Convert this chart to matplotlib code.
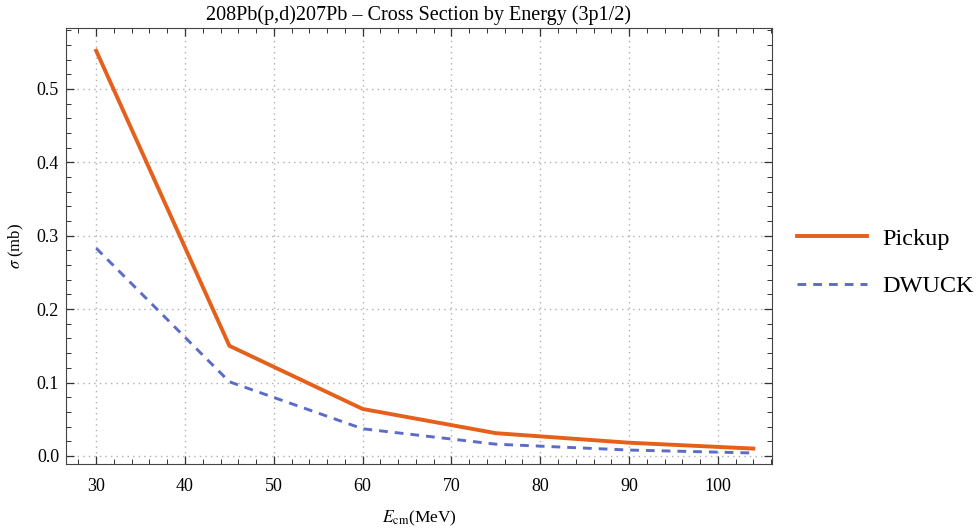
import matplotlib
matplotlib.use("Agg")
import matplotlib.pyplot as plt
from matplotlib.ticker import MultipleLocator

plt.rcParams['font.family'] = ['Liberation Serif', 'DejaVu Serif']
plt.rcParams['mathtext.fontset'] = 'stix'

energy = [30, 45, 60, 75, 90, 104]
pickup = [0.552, 0.150, 0.064, 0.031, 0.018, 0.010]
dwuck = [0.283, 0.101, 0.037, 0.016, 0.008, 0.004]

fig = plt.figure(figsize=(9.79, 5.30), dpi=100)
ax = fig.add_axes([66/979, 1-464/530, (772-66)/979, (464-28)/530])

ax.plot(energy, pickup, color='#E5601A', lw=2.8, label='Pickup')
ax.plot(energy, dwuck, color='#5B6CC8', lw=2.1, ls=(0, (3, 2.4)), label='DWUCK')

ax.set_xlim(26.6, 106.1)
ax.set_ylim(-0.011, 0.583)
ax.xaxis.set_major_locator(MultipleLocator(10))
ax.xaxis.set_minor_locator(MultipleLocator(2))
ax.yaxis.set_major_locator(MultipleLocator(0.1))
ax.yaxis.set_minor_locator(MultipleLocator(0.02))
ax.yaxis.set_major_formatter(plt.FuncFormatter(lambda v, p: f"{v:.1f}"))
ax.tick_params(which='both', direction='in', top=True, right=True, labelsize=13, color='#333333')
ax.tick_params(axis='x', which='major', pad=10)
ax.tick_params(axis='y', which='major', pad=5)
ax.tick_params(which='major', length=6, width=0.9)
ax.tick_params(which='minor', length=3.5, width=0.7)
for s in ax.spines.values():
    s.set_color('#444444')
ax.grid(True, which='major', color='#b0b0b0', ls=(0, (1, 3)), lw=1.0)

ax.set_title('208Pb(p,d)207Pb – Cross Section by Energy (3p1/2)', fontsize=14.5, pad=6)
ax.set_xlabel(r'$E_{\rm cm}$(MeV)', fontsize=12.5, labelpad=10)
ax.set_ylabel(r'$\sigma$ (mb)', fontsize=12, labelpad=8)

leg = ax.legend(loc='center left', bbox_to_anchor=(1.011, 0.462), frameon=False,
                fontsize=17.5, handlelength=2.9, labelspacing=1.05, handletextpad=0.6,
                borderaxespad=0.3)

fig.savefig('out.png', dpi=100)
